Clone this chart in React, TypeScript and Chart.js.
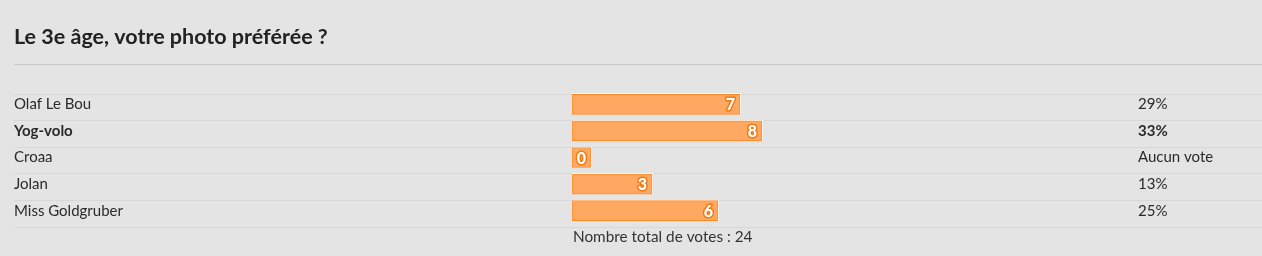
import React, { useEffect, useRef } from "react";
import { Chart, registerables } from "chart.js";

Chart.register(...registerables);

const title = "Le 3e âge, votre photo préférée ?";
const names = ["Olaf Le Bou", "Yog-volo", "Croaa", "Jolan", "Miss Goldgruber"];
const votes = [7, 8, 0, 3, 6];
const percentLabels = ["29%", "33%", "Aucun vote", "13%", "25%"];
const totalLabel = "Nombre total de votes : 24";

const FONT = "Lato";
const BG = "#e4e4e4";
const TEXT = "#2a2a2a";
const FILL = "#ffa861";
const BORDER = "#ff8a26";
const X_MIN = -0.64;

export default function App() {
  const ref = useRef<HTMLCanvasElement>(null);

  useEffect(() => {
    const canvas = ref.current!;
    const maxVotes = Math.max(...votes);
    const isTop = (i: number) => votes[i] === maxVotes;

    const decor = {
      id: "decor",
      beforeDraw(chart: any) {
        const ctx = chart.ctx as CanvasRenderingContext2D;
        ctx.save();
        ctx.fillStyle = BG;
        ctx.fillRect(0, 0, chart.width, chart.height);
        // title
        ctx.fillStyle = "#222";
        ctx.font = `bold 21.5px "${FONT}"`;
        ctx.textAlign = "left";
        ctx.textBaseline = "alphabetic";
        ctx.fillText(title, 14, 44);
        // divider
        ctx.strokeStyle = "#c9c9c9";
        ctx.lineWidth = 1;
        ctx.beginPath();
        ctx.moveTo(14, 64.5);
        ctx.lineTo(chart.width, 64.5);
        ctx.stroke();
        // row lines
        const y = chart.scales.y;
        const step = names.length > 1 ? y.getPixelForValue(1) - y.getPixelForValue(0) : y.height;
        ctx.strokeStyle = "#d8d8d8";
        for (let i = 0; i <= names.length; i++) {
          const py = Math.round(y.getPixelForValue(0) - step / 2 + i * step + 2.5) + 0.5;
          ctx.beginPath();
          ctx.moveTo(14, py);
          ctx.lineTo(chart.width, py);
          ctx.stroke();
        }
        // footer
        ctx.fillStyle = "#333";
        ctx.font = `15.3px "${FONT}"`;
        ctx.fillText(totalLabel, chart.chartArea.left + 1, 241.5);
        ctx.restore();
      },
      beforeDatasetsDraw(chart: any) {
        const ctx = chart.ctx as CanvasRenderingContext2D;
        const meta = chart.getDatasetMeta(0);
        ctx.save();
        ctx.strokeStyle = "#ffffff";
        ctx.lineWidth = 1;
        meta.data.forEach((bar: any) => {
          const top = bar.y - bar.height / 2;
          const right = bar.x;
          ctx.beginPath();
          ctx.moveTo(bar.base, Math.round(top) - 0.5);
          ctx.lineTo(Math.round(right) + 0.5, Math.round(top) - 0.5);
          ctx.lineTo(Math.round(right) + 0.5, Math.round(top + bar.height));
          ctx.stroke();
        });
        ctx.restore();
      },
      afterDatasetsDraw(chart: any) {
        const ctx = chart.ctx as CanvasRenderingContext2D;
        const meta = chart.getDatasetMeta(0);
        ctx.save();
        ctx.font = `900 16px "${FONT}"`;
        ctx.textAlign = "right";
        ctx.textBaseline = "middle";
        ctx.lineJoin = "round";
        meta.data.forEach((bar: any, i: number) => {
          const tx = bar.x - 5;
          const ty = bar.y + 1;
          ctx.strokeStyle = "#f07a12";
          ctx.lineWidth = 3;
          ctx.strokeText(String(votes[i]), tx, ty);
          ctx.fillStyle = "#ffffff";
          ctx.fillText(String(votes[i]), tx, ty);
        });
        ctx.restore();
      },
    };

    const chart = new Chart(canvas, {
      type: "bar",
      data: {
        labels: names,
        datasets: [
          {
            data: votes,
            backgroundColor: FILL,
            borderColor: BORDER,
            borderWidth: 1,
            borderSkipped: false,
            barThickness: 20,
            minBarLength: 19,
            base: X_MIN,
          } as any,
        ],
      },
      options: {
        indexAxis: "y",
        animation: false,
        responsive: false,
        layout: { padding: { left: 14, right: 0, top: 91, bottom: 32 } },
        plugins: {
          legend: { display: false },
          tooltip: { enabled: false },
          title: { display: false },
        },
        scales: {
          x: { display: false, min: X_MIN, max: 25.1 },
          y: {
            type: "category",
            position: "left",
            grid: { display: false, drawTicks: false },
            border: { display: false },
            afterFit(scale: any) {
              scale.width = 558;
            },
            ticks: {
              crossAlign: "far",
              padding: 0,
              color: TEXT,
              font: (c: any) => ({ family: FONT, size: 15, weight: isTop(c.index) ? "bold" : "normal" }),
            },
          },
          y2: {
            type: "category",
            position: "right",
            labels: percentLabels,
            grid: { display: false, drawTicks: false },
            border: { display: false },
            afterFit(scale: any) {
              scale.width = 124;
            },
            ticks: {
              padding: 0,
              color: TEXT,
              font: (c: any) => ({ family: FONT, size: 15, weight: isTop(c.index) ? "bold" : "normal" }),
            },
          },
        },
      } as any,
      plugins: [decor],
    });
    return () => chart.destroy();
  }, []);

  return (
    <div style={{ position: "fixed", left: 0, top: 0, width: 1262, height: 256, background: BG }}>
      <canvas ref={ref} width={1262} height={256} style={{ display: "block", width: 1262, height: 256 }} />
    </div>
  );
}
